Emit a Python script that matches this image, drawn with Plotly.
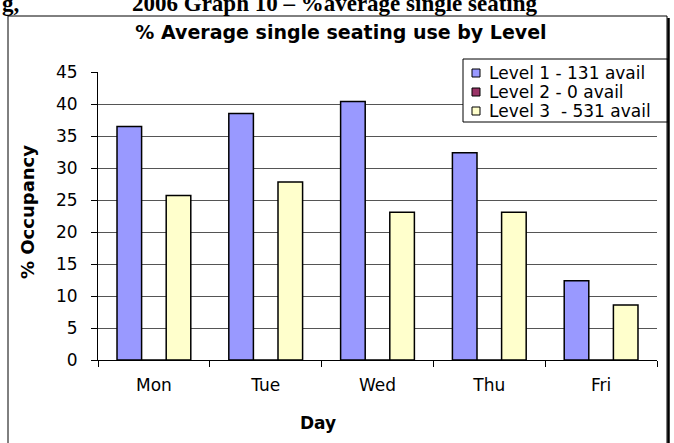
import plotly.graph_objects as go

days = ['Mon', 'Tue', 'Wed', 'Thu', 'Fri']
level1 = [36.5, 38.5, 40.4, 32.4, 12.4]
level2 = [0, 0, 0, 0, 0]
level3 = [25.7, 27.8, 23.1, 23.1, 8.6]

series = [
    ('Level 1 - 131 avail', level1, '#9999FF'),
    ('Level 2 - 0 avail', level2, '#993366'),
    ('Level 3\u00a0 - 531 avail', level3, '#FFFFCC'),
]

W, H = 674, 443
L, R, T, B = 98, 17, 72, 83
pw, ph = W - L - R, H - T - B
FONT = 'DejaVu Sans, Verdana, sans-serif'
SERIF = 'Liberation Serif, Times New Roman, serif'


def px(x):
    return (x - L) / pw


def py(y):
    return (H - B - y) / ph


fig = go.Figure()
for name, vals, col in series:
    fig.add_bar(
        x=days, y=vals, name=name, showlegend=False,
        marker=dict(color=col, line=dict(color='black', width=1.5)),
    )

# hand-made legend (Excel style, tight rows)
shapes = [
    dict(type='rect', xref='paper', yref='paper',
         x0=px(463), x1=px(668), y0=py(122), y1=py(59),
         fillcolor='white', line=dict(color='black', width=1), layer='above'),
]
annotations = []
for i, (name, vals, col) in enumerate(series):
    yc = 72.5 + i * 19
    shapes.append(dict(type='rect', xref='paper', yref='paper',
                       x0=px(472), x1=px(480), y0=py(yc + 4.5), y1=py(yc - 3.5),
                       fillcolor=col, line=dict(color='black', width=1),
                       layer='above'))
    annotations.append(dict(text=name, xref='paper', yref='paper',
                            x=px(487), y=py(yc), xanchor='left',
                            yanchor='middle', showarrow=False,
                            font=dict(size=17)))

# chart frame
shapes += [
    dict(type='rect', xref='paper', yref='paper',
         x0=px(8), x1=px(667), y0=py(460), y1=py(16),
         line=dict(color='black', width=1), layer='above'),
    dict(type='line', xref='paper', yref='paper',
         x0=px(668.5), x1=px(668.5), y0=py(460), y1=py(18),
         line=dict(color='black', width=2.5), layer='above'),
]

annotations += [
    dict(text='<b>Day</b>', xref='paper', yref='paper',
         x=px(318), y=py(423), xanchor='center', yanchor='middle',
         showarrow=False, font=dict(size=17)),
    dict(text='<b>% Occupancy</b>', xref='paper', yref='paper',
         x=px(27), y=py(212), xanchor='center', yanchor='middle',
         textangle=-90, showarrow=False, font=dict(size=18)),
    dict(text='<b>g,</b>', xref='paper', yref='paper', x=px(0), y=py(4),
         xanchor='left', yanchor='middle', showarrow=False,
         font=dict(family=SERIF, size=23)),
    dict(text='<b>2006 Graph 10 \u2013 %average single seating</b>',
         xref='paper', yref='paper', x=px(130), y=py(4),
         xanchor='left', yanchor='middle', showarrow=False,
         font=dict(family=SERIF, size=23)),
]

fig.update_layout(
    width=W, height=H,
    margin=dict(l=L, r=R, t=T, b=B),
    paper_bgcolor='white', plot_bgcolor='white',
    barmode='group', bargap=0.34, bargroupgap=0,
    showlegend=False,
    font=dict(family=FONT, size=17, color='black'),
    title=dict(text='<b>% Average single seating use by Level</b>',
               x=341 / W, xref='container', xanchor='center',
               y=1 - 32 / H, yanchor='middle',
               font=dict(size=19)),
    xaxis=dict(showline=True, linecolor='black', linewidth=1,
               ticks='outside', tickson='boundaries', ticklen=6,
               tickcolor='black', ticklabelstandoff=10),
    yaxis=dict(range=[0, 45], dtick=5, showline=True, linecolor='black',
               linewidth=1, ticks='outside', ticklen=6, tickcolor='black',
               ticklabelstandoff=10,
               showgrid=True, gridcolor='#555', gridwidth=1,
               zeroline=False),
    shapes=shapes,
    annotations=annotations,
)

fig.write_html('out.html', config={'displayModeBar': False},
               post_script="document.body.style.margin='0';")
